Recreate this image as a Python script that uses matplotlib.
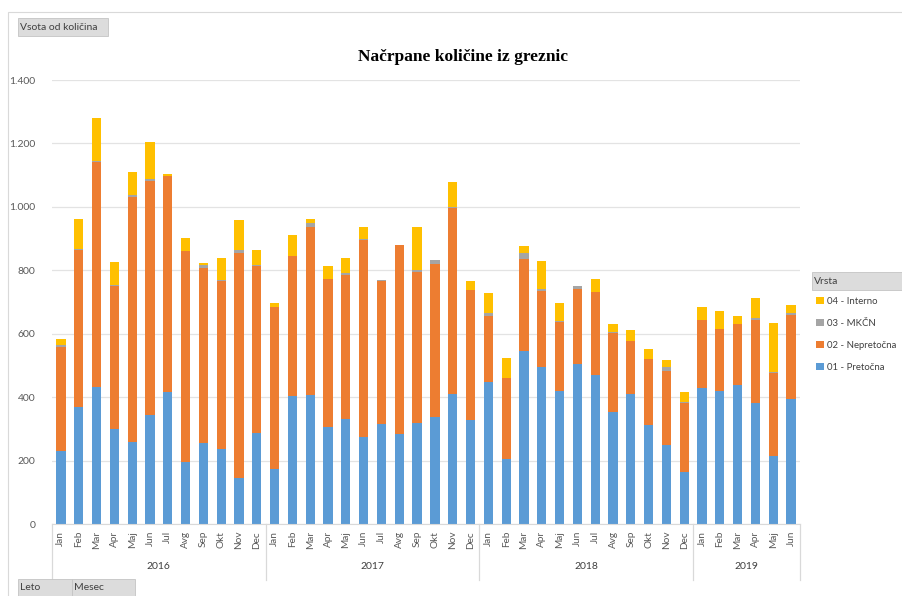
import matplotlib.pyplot as plt
from matplotlib.patches import Rectangle
from matplotlib.transforms import blended_transform_factory

# Monthly quantities by type (Vrsta), Jan 2016 - Jun 2019
years = ["2016", "2017", "2018", "2019"]
months = ["Jan", "Feb", "Mar", "Apr", "Maj", "Jun", "Jul", "Avg", "Sep", "Okt", "Nov", "Dec"]
months_per_year = [12, 12, 12, 6]

pretocna = [231, 370, 431, 300, 260, 343, 416, 195, 254, 238, 146, 286,
            174, 405, 406, 305, 331, 273, 314, 285, 318, 338, 410, 329,
            448, 206, 544, 496, 420, 505, 471, 353, 409, 311, 250, 165,
            429, 420, 438, 382, 213, 394]
nepretocna = [326, 495, 711, 450, 771, 739, 680, 665, 554, 529, 707, 529,
              509, 440, 530, 466, 453, 624, 451, 594, 478, 483, 586, 409,
              207, 254, 292, 239, 217, 237, 259, 250, 167, 209, 231, 218,
              214, 194, 193, 262, 264, 266]
mkcn = [7, 2, 3, 3, 5, 7, 0, 2, 8, 1, 11, 3,
        2, 1, 13, 1, 8, 1, 5, 2, 6, 12, 2, 1,
        9, 1, 19, 7, 4, 8, 3, 1, 1, 1, 14, 1,
        1, 1, 1, 5, 1, 6]
interno = [18, 94, 136, 74, 75, 114, 8, 40, 6, 71, 95, 45,
           13, 64, 13, 43, 48, 37, 0, 0, 135, 0, 81, 28,
           64, 63, 23, 88, 57, 2, 38, 26, 35, 30, 21, 32,
           41, 56, 24, 63, 156, 23]

series_names = ["01 - Pretočna", "02 - Nepretočna", "03 - MKČN", "04 - Interno"]
series_values = [pretocna, nepretocna, mkcn, interno]
colors = ["#5B9BD5", "#ED7D31", "#A5A5A5", "#FFC000"]
yticks = [0, 200, 400, 600, 800, 1000, 1200, 1400]

W, H = 902, 596
fig = plt.figure(figsize=(W / 100, H / 100), dpi=100)
plt.rcParams["font.family"] = ["Lato", "DejaVu Sans"]


def fx(px):
    return px / W


def fy(py):
    return 1 - py / H


# outer chart frame
fig.patches.append(Rectangle((fx(8), fy(700)), fx(1000), fy(12) - fy(700), transform=fig.transFigure,
                             fill=False, edgecolor="#D9D9D9", linewidth=0.8))

ax = fig.add_axes([fx(52), fy(524), fx(800) - fx(52), fy(80) - fy(524)])

month_labels = []
for n in months_per_year:
    month_labels += months[:n]
x = list(range(len(month_labels)))

bottom = [0] * len(x)
bars = []
for name, vals, c in zip(series_names, series_values, colors):
    b = ax.bar(x, vals, width=0.52, bottom=bottom, color=c, label=name, linewidth=0)
    bars.append(b)
    bottom = [a + v for a, v in zip(bottom, vals)]

ax.set_xlim(-0.5, len(x) - 0.5)
ax.set_ylim(0, 1400)
ax.set_yticks(yticks)
ax.set_yticklabels([f"{v:,}".replace(",", ".") for v in yticks], fontsize=7.5, color="#595959")
ax.yaxis.grid(True, color="#E3E3E3", linewidth=0.9)
ax.set_axisbelow(True)
ax.tick_params(axis="y", length=0, pad=12)
ax.set_xticks(x)
ax.set_xticklabels(month_labels, rotation=90, fontsize=7.2, color="#595959")
ax.tick_params(axis="x", length=0, pad=5)
for s in ["top", "right", "left"]:
    ax.spines[s].set_visible(False)
ax.spines["bottom"].set_color("#D9D9D9")

# year groups on the category axis
tr = blended_transform_factory(ax.transData, ax.transAxes)
start = 0
edges = [-0.5]
for yr, n in zip(years, months_per_year):
    ax.text(start + (n - 1) / 2, -0.095, yr, transform=tr, ha="center", va="center",
            fontsize=7.5, color="#404040")
    start += n
    edges.append(start - 0.5)
for e in edges:
    ax.plot([e, e], [0, -0.125], transform=tr, color="#D9D9D9", linewidth=0.9, clip_on=False)

fig.text(fx(463), fy(57), "Načrpane količine iz greznic", ha="center", va="center",
         fontsize=12.5, fontweight="bold", family="Liberation Serif")


def button(x0, y0, x1, y1, label):
    fig.patches.append(Rectangle((fx(x0), fy(y1)), fx(x1 - x0), fy(y0) - fy(y1), transform=fig.transFigure,
                                 facecolor="#DCDCDC", edgecolor="#C4C4C4", linewidth=0.6))
    fig.text(fx(x0 + 2), fy((y0 + y1) / 2), label, ha="left", va="center", fontsize=7.5, color="#404040")


button(18, 18, 108, 36, "Vsota od količina")
button(18, 579, 72, 597, "Leto")
button(72, 579, 135, 597, "Mesec")
button(812, 272, 905, 290, "Vrsta")

leg = fig.legend([b for b in bars[::-1]], series_names[::-1], loc="upper left",
                 bbox_to_anchor=(fx(813), fy(294)), frameon=False, fontsize=6.9,
                 handlelength=0.8, handleheight=0.8, handletextpad=0.4, labelspacing=1.35,
                 borderaxespad=0, borderpad=0.3)
for t in leg.get_texts():
    t.set_color("#404040")

fig.savefig("out.png", dpi=100)
